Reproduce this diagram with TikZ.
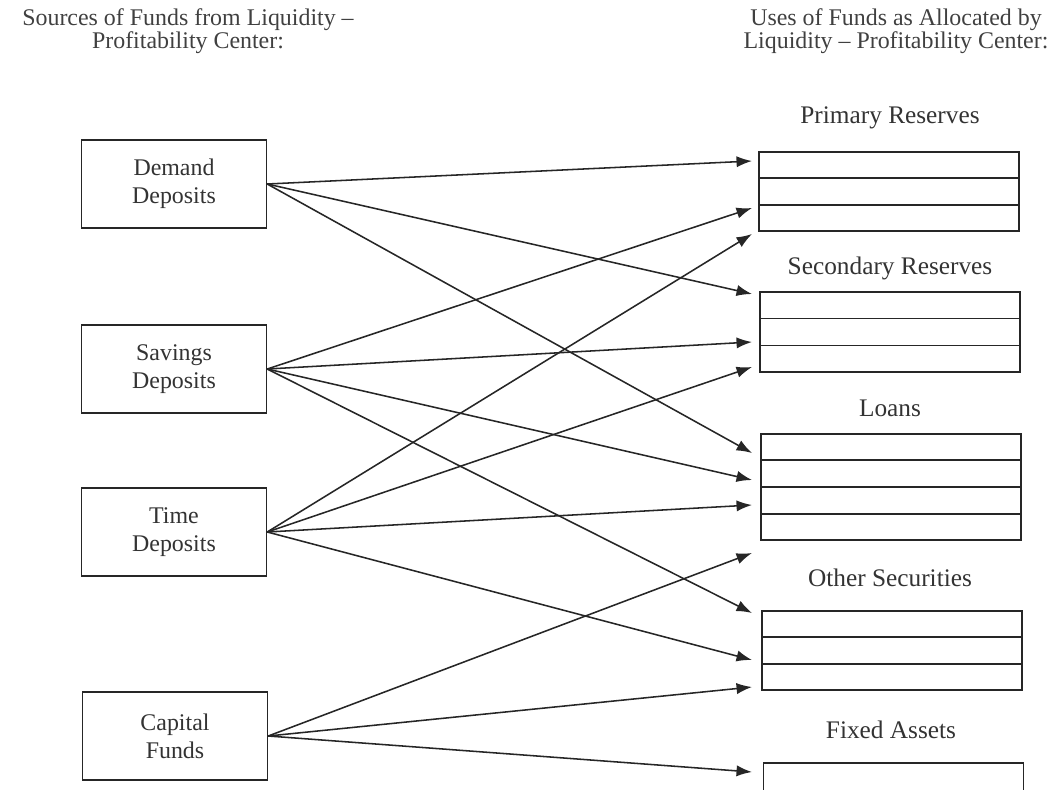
\documentclass[tikz,border=0pt]{standalone}
\usepackage{fontspec}
\setmainfont{Liberation Serif}
\usetikzlibrary{arrows.meta,calc}

\tikzset{
	source/.style={draw=black!85,line width=1pt,minimum width=4.625cm,minimum height=2.2cm,
		align=center,text=black!80,font=\fontsize{17}{20}\selectfont},
	usebox/.style={draw=black!85,line width=1pt,minimum width=6.5cm,inner sep=0pt},
	uselabel/.style={text=black!80,font=\fontsize{18}{21}\selectfont},
	head/.style={align=center,text=black!75,font=\fontsize{17}{16.5}\selectfont},
	flow/.style={-{Latex[length=11pt,width=8pt]},draw=black!85,line width=1.1pt}
}

\begin{document}
\begin{tikzpicture}[x=0.025cm,y=-0.025cm]
	\useasboundingbox (0,0) rectangle (1056,789);
	% headings
	\node[head] (srchead) at (188,31) {Sources of Funds from Liquidity --\\Profitability Center:};
	\node[head] (usehead) at (896,31) {Uses of Funds as Allocated by\\Liquidity -- Profitability Center:};
	% sources
	\node[source] (demand) at (174,184) {Demand\\Deposits};
	\node[source] (savings) at (174,369) {Savings\\Deposits};
	\node[source] (time) at (174,532) {Time\\Deposits};
	\node[source] (capital) at (175,736) {Capital\\Funds};
	% uses
	\node[usebox,minimum height=1.975cm] (primary) at (889,191.5) {};
	\node[usebox,minimum height=2cm] (secondary) at (890,332) {};
	\node[usebox,minimum height=2.65cm] (loans) at (891,487) {};
	\node[usebox,minimum height=1.975cm] (other) at (892,650.5) {};
	\node[usebox,minimum height=1.975cm] (fixed) at (893.5,802.5) {};
	\foreach \usename/\rows in {primary/3,secondary/3,loans/4,other/3}{
		\pgfmathtruncatemacro\last{\rows-1}
		\foreach \k in {1,...,\last}
			\draw[black!85,line width=1pt] ($(\usename.north west)!\k/\rows!(\usename.south west)$)
				-- ($(\usename.north east)!\k/\rows!(\usename.south east)$);
	}
	\node[uselabel] at (890,118) {Primary Reserves};
	\node[uselabel] at (890,268) {Secondary Reserves};
	\node[uselabel] at (890,408) {Loans};
	\node[uselabel] at (890,578) {Other Securities};
	\node[uselabel] at (891,730) {Fixed Assets};
	% arrow tips
	\foreach \name/\y in {p1/161,p2/208,p3/234,s1/294,s2/342,s3/367,
		l1/453,l2/480,l3/505,l4/553,o1/613,o2/660,o3/687,f1/772}
		\coordinate (\name) at (752,\y);
	% flows
	\foreach \from/\to in {demand/p1,demand/s1,demand/l1,
		savings/p2,savings/s2,savings/l2,savings/o1,
		time/p3,time/s3,time/l3,time/o2,
		capital/l4,capital/o3,capital/f1}
		\draw[flow] (\from.east) -- (\to);
\end{tikzpicture}
\end{document}
